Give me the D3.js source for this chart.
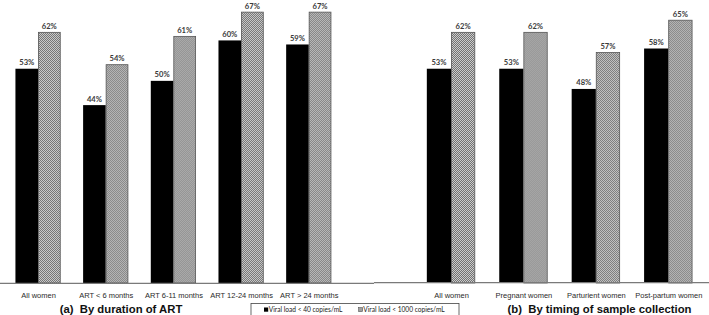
<!DOCTYPE html>
<html>
<head>
<meta charset="utf-8">
<script src="https://cdn.jsdelivr.net/npm/d3@7"></script>
<style>
  body { margin: 0; background: #fff; }
  svg { display: block; }
  .cat text { font-family: "Liberation Sans", Arial, sans-serif; font-size: 7.5px; fill: #2a2a2a; }
  .val { font-family: Lato, "Open Sans", sans-serif; font-size: 7.6px; font-weight: bold; fill: #3a3a3a; }
  .title { font-family: "Liberation Sans", Arial, sans-serif; font-size: 11.3px; font-weight: bold; fill: #111; white-space: pre; }
  .leg { font-family: Lato, "Open Sans", sans-serif; font-size: 6.6px; fill: #222; }
</style>
</head>
<body>
<div id="chart"></div>
<script>
// panel (a): by duration of ART
const catsA = ["All women", "ART < 6 months", "ART 6-11 months", "ART 12-24 months", "ART > 24 months"];
const lowA = [53, 44, 50, 60, 59];
const highA = [62, 54, 61, 67, 67];

// panel (b): by timing of sample collection
const catsB = ["All women", "Pregnant women", "Parturient women", "Post-partum women"];
const lowB = [53, 53, 48, 58];
const highB = [62, 62, 57, 65];

const seriesNames = ["Viral load < 40 copies/mL", "Viral load < 1000 copies/mL"];
const titles = ["(a)  By duration of ART", "(b)  By timing of sample collection"];

const width = 709, height = 315;
const baseY = 283;

const svg = d3.select("#chart").append("svg")
    .attr("width", width)
    .attr("height", height);

// gray checker pattern for the second series
const defs = svg.append("defs");
const pat = defs.append("pattern")
    .attr("id", "checker")
    .attr("patternUnits", "userSpaceOnUse")
    .attr("width", 2)
    .attr("height", 2);
pat.append("rect").attr("width", 2).attr("height", 2).attr("fill", "#cdcdcd");
pat.append("rect").attr("width", 1).attr("height", 1).attr("fill", "#727272");
pat.append("rect").attr("x", 1).attr("y", 1).attr("width", 1).attr("height", 1).attr("fill", "#727272");

const y = d3.scaleLinear()
    .domain([0, 70])
    .range([baseY, 0]);

const panels = [
    {cats: catsA, low: lowA, high: highA, range: [4.2, 342.6], axis: [0, 374], title: titles[0], titleX: 121, axisY: baseY + 0.3},
    {cats: catsB, low: lowB, high: highB, range: [414.8, 704.5], axis: [374, 709], title: titles[1], titleX: 599.5, axisY: baseY - 0.3}
];

panels.forEach(p => {
    let x = d3.scalePoint()
        .domain(p.cats)
        .range(p.range)
        .padding(0.5);
    let bw = x.step() * 0.334;
    let sub = d3.scaleBand()
        .domain([0, 1])
        .range([-bw, bw]);

    let data = p.cats.map((c, i) => ({cat: c, vals: [p.low[i], p.high[i]]}));

    let g = svg.append("g");

    let groups = g.selectAll(".grp")
        .data(data)
        .join("g")
            .attr("class", "grp")
            .attr("transform", d => `translate(${x(d.cat)},0)`);

    groups.selectAll("rect")
        .data(d => d.vals.map((v, k) => ({k: k, v: v})))
        .join("rect")
            .attr("x", d => sub(d.k) + (d.k === 1 ? 0.4 : 0))
            .attr("y", d => y(d.v))
            .attr("width", d => sub.bandwidth() - (d.k === 1 ? 0.8 : 0))
            .attr("height", d => baseY - y(d.v))
            .attr("fill", d => d.k === 0 ? "#000" : "url(#checker)")
            .attr("stroke", d => d.k === 0 ? "none" : "#555")
            .attr("stroke-width", 0.8);

    groups.selectAll(".val")
        .data(d => d.vals.map((v, k) => ({k: k, v: v})))
        .join("text")
            .attr("class", "val")
            .attr("x", d => sub(d.k) + sub.bandwidth() / 2)
            .attr("y", d => y(d.v) - 3.5)
            .attr("text-anchor", "middle")
            .text(d => d.v + "%");

    // category labels
    let xAxis = d3.axisBottom(x).tickSize(0).tickPadding(9.7);
    let ax = g.append("g")
        .attr("class", "cat")
        .attr("transform", `translate(0,${baseY})`)
        .call(xAxis);
    ax.select(".domain").remove();

    g.append("line")
        .attr("x1", p.axis[0])
        .attr("x2", p.axis[1])
        .attr("y1", p.axisY)
        .attr("y2", p.axisY)
        .attr("stroke", "#7a7a7a")
        .attr("stroke-width", 1.2);

    g.append("text")
        .attr("class", "title")
        .attr("x", p.titleX)
        .attr("y", 312.5)
        .attr("text-anchor", "middle")
        .text(p.title);
});

// legend
const leg = svg.append("g").attr("transform", "translate(251,303.5)");
leg.append("rect")
    .attr("width", 208)
    .attr("height", 12.5)
    .attr("fill", "#fff")
    .attr("stroke", "#444")
    .attr("stroke-width", 0.8);

const legX = [13, 107.5];
seriesNames.forEach((name, i) => {
    let it = leg.append("g").attr("transform", `translate(${legX[i]},4)`);
    it.append("rect")
        .attr("width", 4.2)
        .attr("height", 4.2)
        .attr("fill", i === 0 ? "#000" : "url(#checker)")
        .attr("stroke", i === 0 ? "none" : "#444")
        .attr("stroke-width", 0.5);
    it.append("text")
        .attr("class", "leg")
        .attr("x", 4.8)
        .attr("y", 4.4)
        .text(name);
});
</script>
</body>
</html>
